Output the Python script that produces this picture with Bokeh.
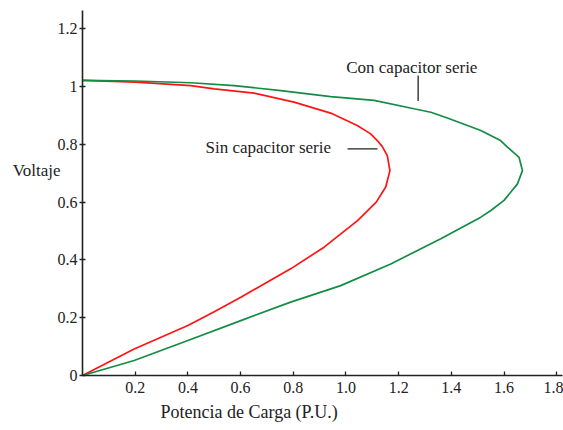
from bokeh.plotting import figure
from bokeh.models import Range1d, Label, FixedTicker, Segment, ColumnDataSource, LinearAxis, Title
from bokeh.embed import file_html
from bokeh.resources import INLINE

# Data (P in P.U., V), traced from the origin, round the nose, back to P=0
sin_p = [0.0, 0.196, 0.400, 0.500, 0.601, 0.790, 0.917, 1.044, 1.115, 1.151, 1.167,
         1.157, 1.138, 1.119, 1.094, 1.043, 0.942, 0.803, 0.651, 0.500, 0.411, 0.202, 0.0]
sin_v = [0.0, 0.092, 0.173, 0.221, 0.271, 0.369, 0.444, 0.536, 0.600, 0.652, 0.709,
         0.761, 0.792, 0.813, 0.836, 0.865, 0.908, 0.946, 0.977, 0.992, 1.003, 1.015, 1.021]

con_p = [0.0, 0.196, 0.400, 0.601, 0.790, 0.980, 1.170, 1.360, 1.512, 1.550, 1.600, 1.651, 1.670,
         1.657, 1.638, 1.613, 1.587, 1.512, 1.385, 1.322, 1.258, 1.107, 0.942, 0.753, 0.575,
         0.411, 0.200, 0.0]
con_v = [0.0, 0.052, 0.121, 0.190, 0.254, 0.311, 0.386, 0.473, 0.548, 0.571, 0.606, 0.663, 0.709,
         0.755, 0.770, 0.790, 0.813, 0.848, 0.891, 0.911, 0.923, 0.952, 0.965, 0.986, 1.003,
         1.013, 1.019, 1.021]

x_ticks = [0.2, 0.4, 0.6, 0.8, 1.0, 1.2, 1.4, 1.6, 1.8]
x_tick_labels = ["0.2", "0.4", "0.6", "0.8", "1.0", "1.2", "1.4", "1.6", "1.8"]
y_ticks = [0, 0.2, 0.4, 0.6, 0.8, 1.0, 1.2]
y_tick_labels = ["0", "0.2", "0.4", "0.6", "0.8", "1", "1.2"]

x_title = "Potencia de Carga (P.U.)"
y_title = "Voltaje"
sin_text = "Sin capacitor serie"
con_text = "Con capacitor serie"

FONT = "Liberation Serif"
INK = "#222222"
RED = "#ff1414"
GREEN = "#148c46"

p = figure(width=563, height=430, output_backend="svg", toolbar_location=None,
           x_range=Range1d(0, 1.822), y_range=Range1d(0, 1.263),
           min_border_left=82, min_border_right=1, min_border_top=10, min_border_bottom=55)
p.outline_line_color = None
p.grid.visible = False
p.background_fill_color = "white"

p.line(sin_p, sin_v, line_color=RED, line_width=1.7)
p.line(con_p, con_v, line_color=GREEN, line_width=1.7)

for ax in (p.xaxis[0], p.yaxis[0]):
    ax.axis_line_color = INK
    ax.axis_line_width = 1.6
    ax.major_tick_line_color = INK
    ax.major_tick_line_width = 1.3
    ax.minor_tick_line_color = None
    ax.major_label_text_font = FONT
    ax.major_label_text_font_size = "16px"
    ax.major_label_text_color = INK

p.xaxis.ticker = FixedTicker(ticks=x_ticks)
p.xaxis.major_label_overrides = dict(zip(x_ticks, x_tick_labels))
p.xaxis.major_tick_in = 4
p.xaxis.major_tick_out = 0
p.xaxis.major_label_standoff = 6

p.yaxis.ticker = FixedTicker(ticks=y_ticks)
p.yaxis.major_label_overrides = dict(zip(y_ticks, y_tick_labels))
p.yaxis.major_tick_in = 3
p.yaxis.major_tick_out = 3
p.yaxis.major_label_standoff = 2

# x title, placed a little left of the frame centre as in the reference
p.add_layout(Title(text=x_title, align="left", offset=78, text_font=FONT,
                   text_font_size="18px", text_font_style="normal", text_color=INK,
                   standoff=9), "below")

# y title, horizontal, raised above the frame centre (blank lines under it)
yt = LinearAxis(ticker=FixedTicker(ticks=[]), axis_label=y_title + "\n\u00a0\n\u00a0",
                axis_line_color=None, major_tick_line_color=None, minor_tick_line_color=None,
                axis_label_text_font=FONT, axis_label_text_font_size="17px",
                axis_label_text_font_style="normal", axis_label_text_color=INK,
                axis_label_orientation="horizontal", axis_label_standoff=-6)
p.add_layout(yt, "left")

# annotations
p.add_layout(Label(x=0.705, y=0.788, text=sin_text, text_font=FONT,
                   text_font_size="17px", text_align="center", text_baseline="middle",
                   text_color=INK))
p.add_layout(Label(x=1.25, y=1.067, text=con_text, text_font=FONT,
                   text_font_size="17px", text_align="center", text_baseline="middle",
                   text_color=INK))
lead = ColumnDataSource(dict(x0=[1.006, 1.274], y0=[0.784, 1.038], x1=[1.12, 1.274], y1=[0.784, 0.95]))
p.add_glyph(lead, Segment(x0="x0", y0="y0", x1="x1", y1="y1", line_color=INK, line_width=1.3))

open("out.html", "w").write(file_html(p, INLINE))
